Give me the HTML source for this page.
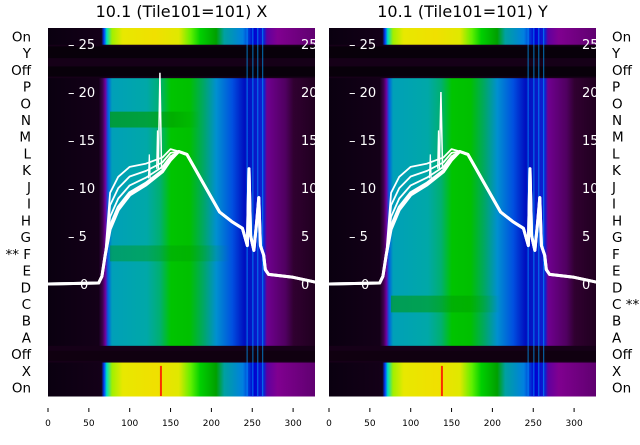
<!DOCTYPE html>
<html><head><meta charset="utf-8"><style>
body{margin:0;background:#fff;width:640px;height:440px;overflow:hidden;font-family:"Liberation Sans","DejaVu Sans",sans-serif}
</style></head><body>
<svg id="s" width="640" height="440" xmlns="http://www.w3.org/2000/svg" font-family="DejaVu Sans, Liberation Sans, sans-serif">
<defs>
<linearGradient id="g" x1="0" x2="1" y1="0" y2="0">
<stop offset="0" stop-color="#0a0010"/><stop offset="0.19" stop-color="#140018"/>
<stop offset="0.205" stop-color="#400050"/><stop offset="0.215" stop-color="#7000a0"/>
<stop offset="0.225" stop-color="#0060e0"/><stop offset="0.24" stop-color="#00a0b8"/>
<stop offset="0.37" stop-color="#00a8a8"/><stop offset="0.42" stop-color="#00b070"/>
<stop offset="0.46" stop-color="#00c400"/><stop offset="0.53" stop-color="#00c000"/>
<stop offset="0.58" stop-color="#00a860"/><stop offset="0.63" stop-color="#0090d0"/>
<stop offset="0.69" stop-color="#0050e0"/><stop offset="0.735" stop-color="#0010c0"/>
<stop offset="0.81" stop-color="#1020d0"/><stop offset="0.82" stop-color="#700090"/>
<stop offset="0.89" stop-color="#500060"/><stop offset="0.92" stop-color="#300030"/>
<stop offset="1" stop-color="#200020"/></linearGradient>
<linearGradient id="y" x1="0" x2="1" y1="0" y2="0">
<stop offset="0" stop-color="#0a0010"/><stop offset="0.2" stop-color="#140018"/>
<stop offset="0.21" stop-color="#0040ff"/><stop offset="0.22" stop-color="#00e0c0"/>
<stop offset="0.24" stop-color="#a0f000"/><stop offset="0.28" stop-color="#e8e800"/>
<stop offset="0.4" stop-color="#f0e000"/><stop offset="0.49" stop-color="#e0e800"/>
<stop offset="0.535" stop-color="#60f000"/><stop offset="0.57" stop-color="#00d000"/>
<stop offset="0.63" stop-color="#00a000"/><stop offset="0.66" stop-color="#00a0a0"/>
<stop offset="0.73" stop-color="#0080e0"/><stop offset="0.77" stop-color="#0000d0"/>
<stop offset="0.81" stop-color="#1020d0"/><stop offset="0.82" stop-color="#6000a0"/>
<stop offset="0.86" stop-color="#800090"/><stop offset="1" stop-color="#600070"/></linearGradient>
<linearGradient id="band" x1="0" x2="1" y1="0" y2="0">
<stop offset="0" stop-color="#009a20" stop-opacity="0.8"/><stop offset="0.7" stop-color="#00a000" stop-opacity="0.6"/><stop offset="1" stop-color="#00a000" stop-opacity="0"/></linearGradient>
</defs>
</svg>
<script>
(function(){
var s=document.getElementById('s'),NS='http://www.w3.org/2000/svg';
function el(t,a,txt){var e=document.createElementNS(NS,t);for(var k in a)e.setAttribute(k,a[k]);if(txt!=null)e.textContent=txt;s.appendChild(e);return e;}
var labels=['On','Y','Off','P','O','N','M','L','K','J','I','H','G','F','E','D','C','B','A','Off','X','On'];
var T0=28,rh=368/22;
function panel(x0,side,title){
 var w=267;
 for(var i=0;i<22;i++){
  var f='url(#g)';
  if(i==0||i==20||i==21)f='url(#y)';
  if(i==1||i==2||i==19)f='#160018';
  el('rect',{x:x0,y:T0+i*rh,width:w,height:rh+0.5,fill:f});
 }
 el('rect',{x:x0,y:T0+rh*1.1,width:w,height:rh*0.7,fill:'#08000a'});
 el('rect',{x:x0,y:T0+rh*2.3,width:w,height:rh*0.6,fill:'#08000a'});
 el('rect',{x:x0,y:T0+rh*19.3,width:w,height:rh*0.6,fill:'#100010'});
 [243,250,256,262].forEach(function(v){el('rect',{x:x0+v*0.817,y:T0,width:1.2,height:368,fill:'#00a0ff',opacity:0.6});});
 if(!side){
  el('rect',{x:x0+62,y:T0+rh*5,width:90,height:rh*0.95,fill:'url(#band)'});
  el('rect',{x:x0+62,y:T0+rh*13,width:120,height:rh*0.95,fill:'url(#band)',opacity:0.6});
 } else el('rect',{x:x0+62,y:T0+rh*16,width:110,height:rh,fill:'url(#band)',opacity:0.8});
 el('rect',{x:x0+137*0.817,y:T0+20.2*rh,width:2,height:rh*1.8,fill:'#ff0000',opacity:0.8});
 function py(v){return 284-v*9.6;}
 function px(v){return x0+v*0.817;}
 var base=[[0,0],[62,0.1],[66,0.8],[70,3],[76,6],[86,8],[100,9.5],[120,10.5],[140,11.8],[150,13],[160,13.8],[170,13.5],[180,12],[190,10.5],[200,9],[210,7.5],[225,6.5],[238,5.8],[244,4],[246,12],[248,5],[252,3.5],[256,7],[258,9],[260,4],[264,3],[266,1.5],[270,1],[300,0.7],[327,0.2]];
 var offs=[3.5,2.2,1,0,-0.3];
 offs.forEach(function(o,k){
  var pts=base.map(function(p){var v=p[1];if(p[0]>=76&&p[0]<=150)v+=o*(1-(p[0]-76)/74*0.7);return px(p[0])+','+py(v);}).join(' ');
  el('polyline',{points:pts,fill:'none',stroke:'#fff','stroke-width':k>=3?3:1.8,'stroke-linejoin':'round'});
 });
 el('polyline',{points:px(135)+','+py(12)+' '+px(137)+','+py(side?20:22)+' '+px(139)+','+py(12),fill:'none',stroke:'#fff','stroke-width':1.5});
 el('polyline',{points:px(123)+','+py(11)+' '+px(124)+','+py(13.5)+' '+px(125)+','+py(11),fill:'none',stroke:'#fff','stroke-width':1.2});
 el('polyline',{points:px(133)+','+py(12)+' '+px(134)+','+py(16)+' '+px(135)+','+py(12),fill:'none',stroke:'#fff','stroke-width':1.2});
 [0,5,10,15,20,25].forEach(function(v){
  var t=v==0?'0':'– '+v;
  el('text',{x:x0+(v==0?32:20),y:py(v)+5,fill:'#fff','font-size':13},t);
  el('text',{x:x0+w-14,y:py(v)+5,fill:'#fff','font-size':13},String(v));
 });
 el('text',{x:x0+w/2,y:17,'text-anchor':'middle','font-size':16,fill:'#000'},title);
 [0,50,100,150,200,250,300].forEach(function(v){
  el('line',{x1:px(v),x2:px(v),y1:408,y2:412,stroke:'#000','stroke-width':1});
  el('text',{x:px(v),y:426,'text-anchor':'middle','font-size':9,fill:'#000'},String(v));
 });
 labels.forEach(function(l,i){
  var yy=T0+i*rh+rh/2+5;
  if(!side){el('text',{x:31,y:yy,'text-anchor':'end','font-size':13.5,fill:'#000'},(i==13?'** ':'')+l);}
  else{el('text',{x:612,y:yy,'font-size':13.5,fill:'#000'},l+(i==16?' **':''));}
 });
}
panel(48,0,'10.1 (Tile101=101) X');
panel(329,1,'10.1 (Tile101=101) Y');
})();
</script>
</body></html>
